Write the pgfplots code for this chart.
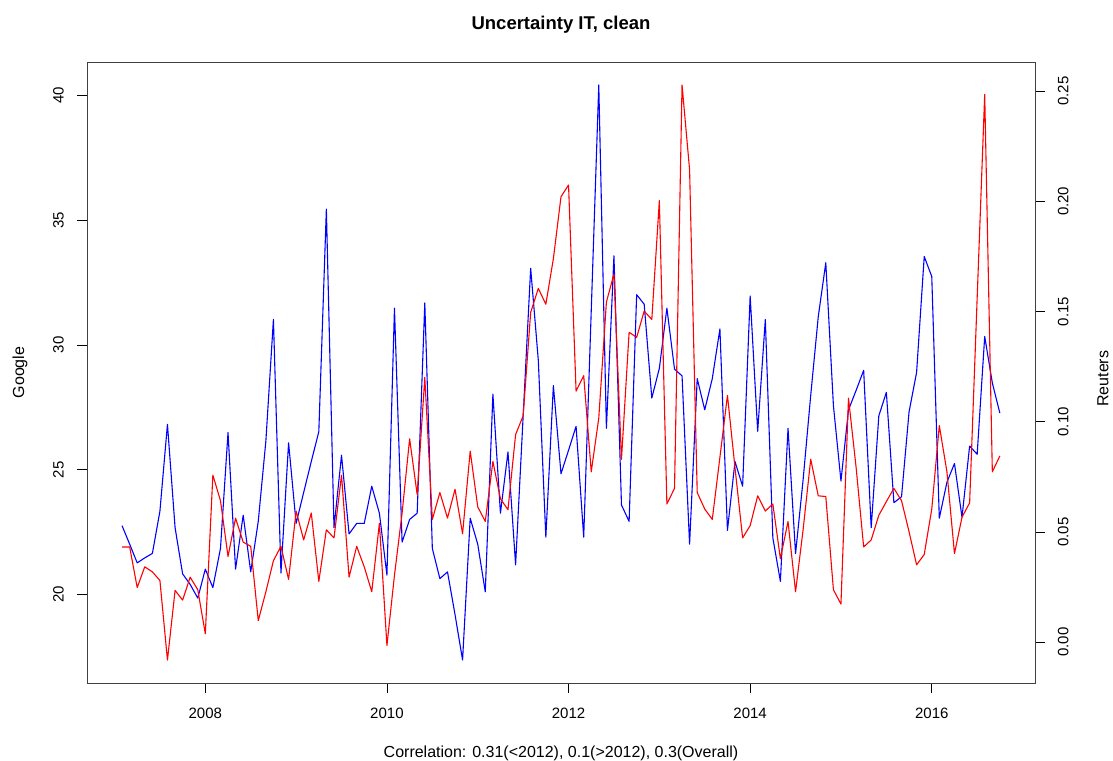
\documentclass[border=0pt]{standalone}
\usepackage{fontspec}
\setmainfont{Liberation Sans}
\usepackage{pgfplots}
\usepackage{pgfplotstable}
\pgfplotsset{compat=1.18}
\pgfplotstableread{
x G R
2007.083 22.76 0.0432
2007.167 22.02 0.0432
2007.250 21.27 0.0248
2007.333 21.47 0.0342
2007.417 21.65 0.0319
2007.500 23.34 0.0280
2007.583 26.82 -0.0081
2007.667 22.68 0.0235
2007.750 20.83 0.0191
2007.833 20.41 0.0295
2007.917 19.86 0.0238
2008.000 21.02 0.0038
2008.083 20.28 0.0758
2008.167 21.85 0.0642
2008.250 26.49 0.0389
2008.333 21.02 0.0563
2008.417 23.18 0.0454
2008.500 20.91 0.0435
2008.583 22.93 0.0098
2008.667 26.16 0.0229
2008.750 31.02 0.0370
2008.833 20.86 0.0435
2008.917 26.08 0.0285
2009.000 22.85 0.0595
2009.083 24.09 0.0464
2009.167 25.33 0.0586
2009.250 26.53 0.0276
2009.333 35.44 0.0510
2009.417 22.68 0.0473
2009.500 25.58 0.0758
2009.583 22.43 0.0295
2009.667 22.85 0.0435
2009.750 22.85 0.0342
2009.833 24.34 0.0229
2009.917 23.26 0.0539
2010.000 20.78 -0.0015
2010.083 31.47 0.0304
2010.167 22.10 0.0586
2010.250 23.01 0.0923
2010.333 23.26 0.0670
2010.417 31.68 0.1201
2010.500 21.85 0.0557
2010.583 20.64 0.0679
2010.667 20.91 0.0563
2010.750 19.20 0.0694
2010.833 17.38 0.0492
2010.917 23.06 0.0867
2011.000 22.02 0.0614
2011.083 20.11 0.0548
2011.167 28.03 0.0820
2011.250 23.26 0.0651
2011.333 25.71 0.0601
2011.417 21.19 0.0942
2011.500 27.14 0.1027
2011.583 33.07 0.1496
2011.667 29.39 0.1605
2011.750 22.30 0.1533
2011.833 28.37 0.1740
2011.917 24.84 0.2021
2012.000 25.78 0.2074
2012.083 26.74 0.1139
2012.167 22.30 0.1209
2012.250 31.37 0.0773
2012.333 40.41 0.1017
2012.417 26.66 0.1543
2012.500 33.57 0.1670
2012.583 23.59 0.0830
2012.667 22.93 0.1406
2012.750 32.01 0.1383
2012.833 31.63 0.1502
2012.917 27.87 0.1464
2013.000 29.06 0.2003
2013.083 31.47 0.0627
2013.167 29.03 0.0698
2013.250 28.76 0.2528
2013.333 22.02 0.2143
2013.417 28.65 0.0679
2013.500 27.40 0.0604
2013.583 28.65 0.0557
2013.667 30.64 0.0839
2013.750 22.57 0.1120
2013.833 25.33 0.0792
2013.917 24.34 0.0473
2014.000 31.96 0.0529
2014.083 26.54 0.0664
2014.167 31.02 0.0595
2014.250 22.27 0.0627
2014.333 20.53 0.0379
2014.417 26.66 0.0548
2014.500 21.64 0.0229
2014.583 24.59 0.0510
2014.667 27.98 0.0830
2014.750 31.13 0.0664
2014.833 33.29 0.0661
2014.917 27.57 0.0238
2015.000 24.55 0.0173
2015.083 27.40 0.1107
2015.167 28.18 0.0792
2015.250 28.98 0.0432
2015.333 22.68 0.0464
2015.417 27.16 0.0576
2015.500 28.10 0.0638
2015.583 23.68 0.0698
2015.667 23.92 0.0642
2015.750 27.32 0.0501
2015.833 28.90 0.0351
2015.917 33.54 0.0398
2016.000 32.74 0.0604
2016.083 23.06 0.0983
2016.167 24.50 0.0773
2016.250 25.25 0.0402
2016.333 23.10 0.0567
2016.417 25.95 0.0632
2016.500 25.62 0.1562
2016.583 30.34 0.2485
2016.667 28.48 0.0773
2016.750 27.27 0.0845
}\data

\begin{document}
\fontsize{16}{19}\selectfont
\begin{tikzpicture}
\useasboundingbox (0pt,0pt) rectangle (1113pt,760pt);
\pgfplotsset{
  common/.style={
    at={(87pt,77pt)}, anchor=south west,
    width=948pt, height=621pt, scale only axis,
    xmin=2006.697, xmax=2017.137,
    tick align=outside, major tick length=10pt,
    every tick/.style={black, line width=0.8pt},
    axis line style={black!75, line width=0.9pt},
    /pgf/number format/assume math mode=true,
    tick label style={font=\fontsize{15}{18}\selectfont},
    label style={font=\fontsize{16}{19}\selectfont},
  }
}
\begin{axis}[
  common,
  ymin=16.46, ymax=41.33,
  xtick={2008,2010,2012,2014,2016},
  ytick={20,25,30,35,40},
  xtick pos=bottom, ytick pos=left,
  x tick label style={/pgf/number format/1000 sep={}, anchor=base, inner sep=0pt, yshift=-25.4pt},
  y tick label style={xshift=-13pt, rotate=90, anchor=south, inner sep=0pt},
  xlabel={Correlation: 0.31(<2012), 0.1(>2012), 0.3(Overall)},
  xlabel style={at={(axis description cs:0.5,0)}, anchor=base, inner sep=0pt, yshift=-74pt},
  ylabel={Google},
  ylabel style={at={(axis description cs:-0.0707,0.5)}, anchor=center, inner sep=0pt},
  title={\bfseries Uncertainty IT, clean},
  title style={at={(axis description cs:0.5,1)}, anchor=base, inner sep=0pt, yshift=26pt, font=\fontsize{18.5}{22}\selectfont},
]
\addplot[blue, line width=1.1pt, line join=round] table[x=x, y=G] {\data};
\end{axis}
\begin{axis}[
  common,
  ymin=-0.0185, ymax=0.2632,
  axis x line=none, axis y line*=right,
  ytick={0,0.05,0.1,0.15,0.2,0.25},
  yticklabel style={/pgf/number format/fixed, /pgf/number format/fixed zerofill, /pgf/number format/precision=2, xshift=12.7pt, rotate=90, anchor=north, inner sep=0pt},
  ylabel={Reuters},
  ylabel style={at={(axis description cs:1.0717,0.49)}, anchor=center, inner sep=0pt},
]
\addplot[red, line width=1.1pt, line join=round] table[x=x, y=R] {\data};
\end{axis}
\end{tikzpicture}
\end{document}
